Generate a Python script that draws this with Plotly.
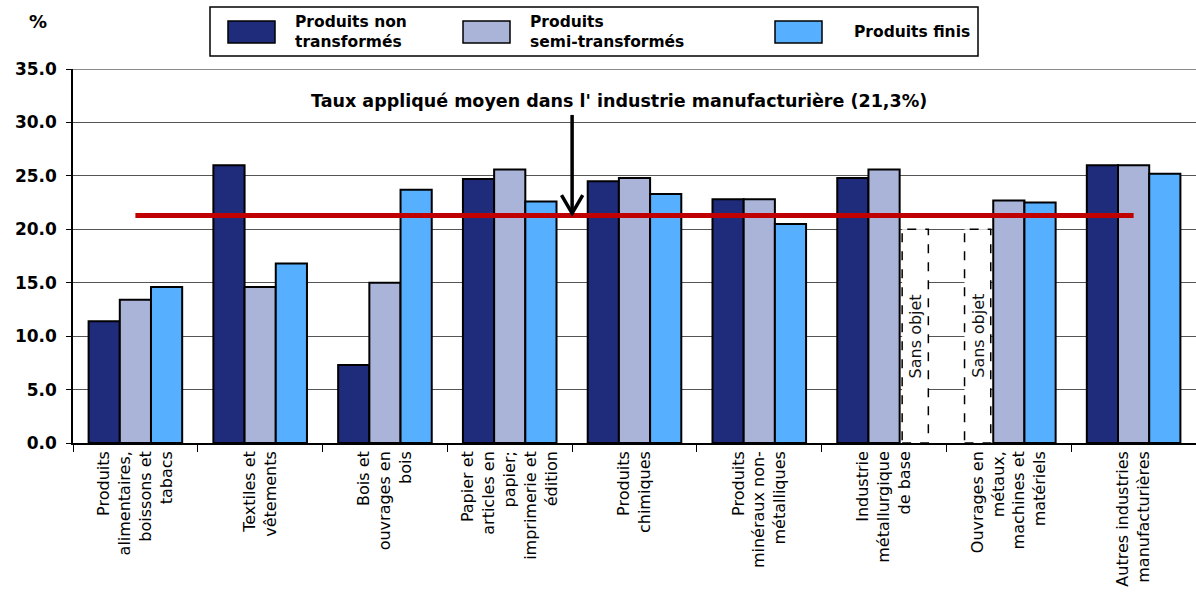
import plotly.graph_objects as go

categories = [
    "Produits<br>alimentaires,<br>boissons et<br>tabacs",
    "Textiles et<br>vêtements",
    "Bois et<br>ouvrages en<br>bois",
    "Papier et<br>articles en<br>papier;<br>imprimerie et<br>édition",
    "Produits<br>chimiques",
    "Produits<br>minéraux non-<br>métalliques",
    "Industrie<br>métallurgique<br>de base",
    "Ouvrages en<br>métaux,<br>machines et<br>matériels",
    "Autres industries<br>manufacturières",
]
non_transformes = [11.4, 26.0, 7.3, 24.7, 24.5, 22.8, 24.8, None, 26.0]
semi_transformes = [13.4, 14.6, 15.0, 25.6, 24.8, 22.8, 25.6, 22.7, 26.0]
finis = [14.6, 16.8, 23.7, 22.6, 23.3, 20.5, None, 22.5, 25.2]
series_names = ["Produits non<br>transformés", "Produits<br>semi-transformés", "Produits finis"]
series_values = [non_transformes, semi_transformes, finis]
colors = ["#1F2B7B", "#AAB3D8", "#56B0FF"]
avg_rate = 21.3
avg_label = "Taux appliqué moyen dans l' industrie manufacturière (21,3%)"
sans_objet_value = 20.0
sans_objet_label = "Sans objet"

W, H = 1196, 599
ML, MR, MT, MB = 73, 0, 69, 156
FONT = "DejaVu Sans"


def px2x(px):
    return (px - ML) / (W - ML - MR)


def py2y(py):
    return (H - MB - py) / (H - MT - MB)


fig = go.Figure()
for name, vals, col in zip(series_names, series_values, colors):
    fig.add_trace(go.Bar(
        x=categories, y=vals, name=name,
        marker=dict(color=col, line=dict(color="black", width=2)),
        showlegend=False,
    ))

# average line from first to last category
fig.add_trace(go.Scatter(
    x=[categories[0], categories[-1]], y=[avg_rate, avg_rate], mode="lines",
    line=dict(color="#C00000", width=5), showlegend=False,
))

bargap = 0.25
bw = (1 - bargap) / 3
shapes = []
annotations = []

# "Sans objet" placeholders for missing values
for s_idx, vals in enumerate(series_values):
    for c_idx, v in enumerate(vals):
        if v is None:
            center = c_idx + (s_idx - 1) * bw
            x0 = center - bw / 2 + 0.02
            x1 = center + bw / 2 - 0.02
            shapes.append(dict(type="rect", xref="x", yref="y", x0=x0, x1=x1,
                               y0=0, y1=sans_objet_value, fillcolor="white",
                               line=dict(color="black", width=1.5, dash="dash"),
                               layer="above"))
            annotations.append(dict(x=center, y=sans_objet_value / 2, xref="x", yref="y",
                                    xanchor="center", yanchor="middle",
                                    text=sans_objet_label, textangle=-90, showarrow=False,
                                    font=dict(family=FONT, size=16, color="#111")))

# top border (gray)
shapes.append(dict(type="line", xref="paper", yref="y", x0=0, x1=1, y0=35, y1=35,
                   line=dict(color="#8c8c8c", width=2)))

# arrow pointing to the average line (between 4th and 5th categories)
ax = 3.5
tip = avg_rate + 0.2
top = 30.7
dx = 0.085
dy = 1.7
shapes.append(dict(type="line", xref="x", yref="y", x0=ax, x1=ax, y0=top, y1=tip,
                   line=dict(color="black", width=3.5)))
shapes.append(dict(type="path", xref="x", yref="y",
                   path=f"M {ax - dx},{tip + dy} L {ax},{tip} L {ax + dx},{tip + dy}",
                   line=dict(color="black", width=3.5)))
annotations.append(dict(x=px2x(619), y=py2y(101), xref="paper", yref="paper",
                        xanchor="center", yanchor="middle",
                        text=f"<b>{avg_label}</b>", showarrow=False,
                        font=dict(family=FONT, size=17.5, color="black")))

# "%" label
annotations.append(dict(x=px2x(38), y=py2y(22), xref="paper", yref="paper",
                        xanchor="center", yanchor="middle",
                        text="<b>%</b>", showarrow=False,
                        font=dict(family=FONT, size=18, color="black")))

# manual legend
shapes.append(dict(type="rect", xref="paper", yref="paper",
                   x0=px2x(210), x1=px2x(978), y0=py2y(56), y1=py2y(7),
                   line=dict(color="black", width=1.5), fillcolor="white"))
sw_x = [228, 463, 775]
tx_x = [293, 528, 852]
for i in range(3):
    shapes.append(dict(type="rect", xref="paper", yref="paper",
                       x0=px2x(sw_x[i]), x1=px2x(sw_x[i] + 47), y0=py2y(43), y1=py2y(21),
                       fillcolor=colors[i], line=dict(color="black", width=1.5)))
    annotations.append(dict(x=px2x(tx_x[i]), y=py2y(32), xref="paper", yref="paper",
                            xanchor="left", yanchor="middle", align="left",
                            text=f"<b>{series_names[i]}</b>", showarrow=False,
                            font=dict(family=FONT, size=15.5, color="black")))

fig.update_layout(
    width=W, height=H,
    margin=dict(l=ML, r=MR, t=MT, b=MB),
    paper_bgcolor="white", plot_bgcolor="white",
    barmode="group", bargap=bargap, bargroupgap=0,
    shapes=shapes, annotations=annotations,
    showlegend=False,
    xaxis=dict(
        type="category", tickson="boundaries", ticks="outside", ticklen=7,
        tickcolor="black", tickwidth=1, showline=True, linecolor="black", linewidth=1.5,
        tickangle=-90, tickfont=dict(family=FONT, size=16, color="black"),
        showgrid=False, range=[-0.5, len(categories) - 0.5],
    ),
    yaxis=dict(
        range=[0, 35], dtick=5, tickformat=".1f", ticks="outside", ticklen=5,
        tickcolor="black", showline=True, linecolor="black", linewidth=1.5,
        showgrid=True, gridcolor="#555555", gridwidth=1, ticklabelstandoff=6,
        tickfont=dict(family=FONT, size=17, color="black", weight="bold"),
        zeroline=False,
    ),
    font=dict(family=FONT),
)

fig.write_html("out.html", post_script="document.body.style.margin='0';",
               config={"displayModeBar": False})
